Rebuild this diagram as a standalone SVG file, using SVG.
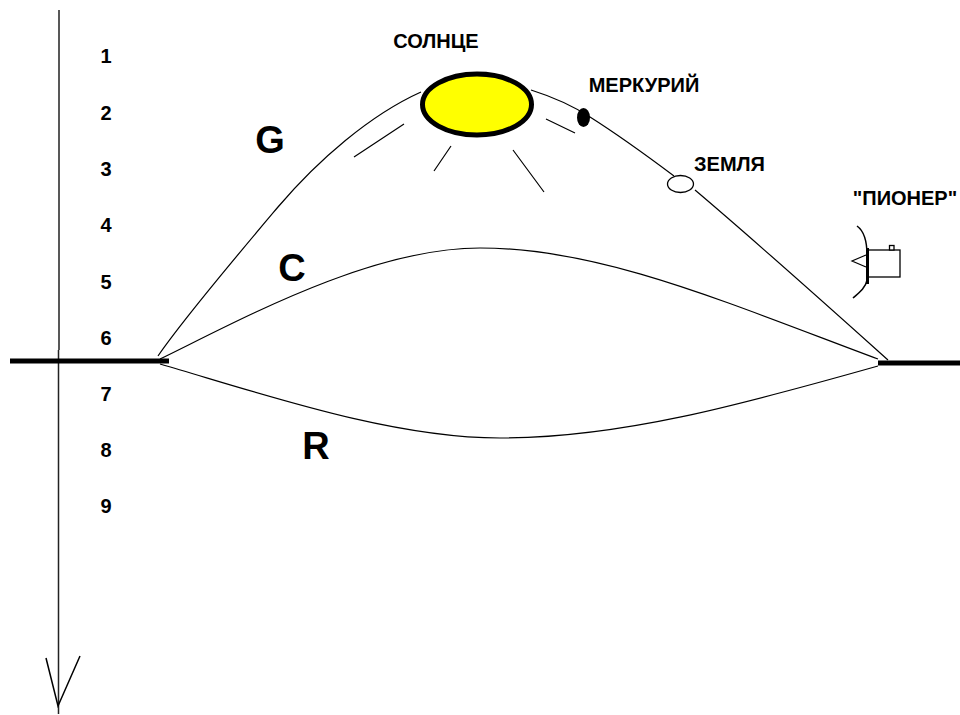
<svg xmlns="http://www.w3.org/2000/svg" width="960" height="715" viewBox="0 0 960 715">
<style>
.l{fill:none;stroke:#000;stroke-width:1.2}
.g{fill:none;stroke:#000;stroke-width:5}
.t{font-family:"Liberation Sans",Arial,sans-serif;font-weight:bold;font-size:20px;fill:#000;text-anchor:middle}
.d{font-family:"Liberation Sans",Arial,sans-serif;font-weight:bold;font-size:20px;fill:#000;text-anchor:middle}
.b{font-family:"Liberation Sans",Arial,sans-serif;font-weight:bold;font-size:38px;fill:#000;text-anchor:middle}
</style>
<rect width="960" height="715" fill="#fff"/>
<g id="connectors">
<path id="axis" fill="none" stroke="#222" stroke-width="1.5" d="M59 10V350M58.500 350V714"/>
<path id="arrowhead" fill="none" stroke="#000" stroke-width="1.5" d="M46 658L58 706L80 656"/>
<path id="ground-left" class="g" d="M10 361H169"/>
<path id="ground-right" class="g" d="M878 363H960"/>
<path id="orbit-g" class="l" d="M158 356C184 318 240 252 278 207C318 160 370 115 421 92M531 90C550 96 570 104 590 117C620 136 650 158 674 176M695 190C760 245 830 308 888 360"/>
<path id="orbit-c" class="l" d="M160 359C240 320 370 248 480 248C600 248 720 300 878 359"/>
<path id="orbit-r" class="l" d="M160 364C260 393 390 438 500 438C620 438 740 405 878 366"/>
<path class="l" d="M354 157L404 124M434 171L451 146M513 150L544 192M546 119L575 133"/>
</g>
<g id="sun"><ellipse cx="477" cy="104.500" rx="54.500" ry="30.500" fill="#ff0" stroke="#000" stroke-width="5"/></g>
<g id="mercury"><ellipse cx="583.500" cy="117.500" rx="6.500" ry="9.500" fill="#000"/></g>
<g id="earth"><ellipse cx="680.500" cy="184" rx="13" ry="8.500" fill="#fff" stroke="#000" stroke-width="1.300"/></g>
<g id="pioneer">
<rect x="868" y="250" width="32" height="27" fill="#fff" stroke="#000" stroke-width="1.300"/>
<rect x="889.500" y="245.500" width="4.500" height="4.500" fill="#fff" stroke="#000" stroke-width="1.300"/>
<path class="l" d="M866 255L852 261L866 267"/>
<path d="M857 226C864 231 867 240 867 255V280C866 287 860 292 853 298" fill="none" stroke="#000" stroke-width="1.500"/>
<path d="M867.500 248V284" stroke="#000" stroke-width="3"/>
</g>
<g id="labels">
<text class="d" x="106" y="63">1</text><text class="d" x="106" y="119.500">2</text><text class="d" x="106" y="176">3</text>
<text class="d" x="106" y="232">4</text><text class="d" x="106" y="288.500">5</text><text class="d" x="106" y="344.500">6</text>
<text class="d" x="106" y="401">7</text><text class="d" x="106" y="457">8</text><text class="d" x="106" y="513">9</text>
<text class="t" x="436" y="48">СОЛНЦЕ</text>
<text class="t" x="644" y="92">МЕРКУРИЙ</text>
<text class="t" x="729.500" y="171">ЗЕМЛЯ</text>
<text class="t" x="905" y="205">"ПИОНЕР"</text>
<text class="b" x="270" y="153">G</text>
<text class="b" x="292" y="281">C</text>
<text class="b" x="316" y="459">R</text>
</g>
</svg>
